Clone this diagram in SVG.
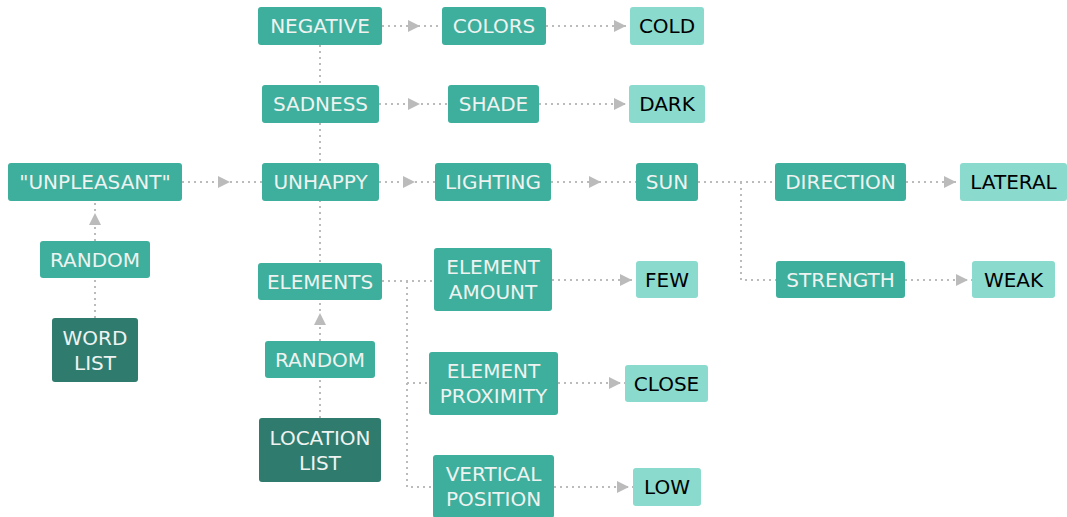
<svg xmlns="http://www.w3.org/2000/svg" width="1067" height="517" viewBox="0 0 1067 517">
<style>
.n rect{fill:#3daf9c;}
.d rect{fill:#2f7c6f;}
.l rect{fill:#8adacd;}
text{font-family:"DejaVu Sans",sans-serif;font-size:20px;text-anchor:middle;fill:#eef3f1;}
.l text{fill:#000;}
.c path{fill:none;stroke:#bbb;stroke-width:2;stroke-dasharray:2 4;}
.c polygon{fill:#bbb;}
</style>
<rect width="1067" height="517" fill="#fff"/>
<g class="c" id="connectors">
<path d="M182 182H262"/><polygon points="218,176 230,182 218,188"/>
<path d="M379 182H435"/><polygon points="403,176 415,182 403,188"/>
<path d="M382 26H442"/><polygon points="408,20 420,26 408,32"/>
<path d="M546 26H630"/><polygon points="614,20 626,26 614,32"/>
<path d="M379 104H448"/><polygon points="408,98 420,104 408,110"/>
<path d="M539 104H629"/><polygon points="614,98 626,104 614,110"/>
<path d="M551 182H636"/><polygon points="589,176 601,182 589,188"/>
<path d="M698 182H775"/>
<path d="M741 182V280H776"/>
<path d="M906 182H960"/><polygon points="944,176 956,182 944,188"/>
<path d="M905 280H972"/><polygon points="956,274 968,280 956,286"/>
<path d="M320 45V85"/>
<path d="M320 123V163"/>
<path d="M320 200V263"/>
<path d="M95 241V200"/><polygon points="89,225 95,213 101,225"/>
<path d="M95 318V278"/>
<path d="M320 341V300"/><polygon points="314,325 320,313 326,325"/>
<path d="M320 418V378"/>
<path d="M382 281H434"/>
<path d="M407 281V487H433"/>
<path d="M407 383H429"/>
<path d="M552 280H636"/><polygon points="620,274 632,280 620,286"/>
<path d="M558 383H625"/><polygon points="609,377 621,383 609,389"/>
<path d="M554 487H633"/><polygon points="617,481 629,487 617,493"/>
</g>
<g id="unpleasant" class="n"><rect x="8" y="163" width="174" height="38" rx="3"/><text x="95" y="189.3">"UNPLEASANT"</text></g>
<g id="unhappy" class="n"><rect x="262" y="163" width="117" height="38" rx="3"/><text x="320.5" y="189.3">UNHAPPY</text></g>
<g id="random1" class="n"><rect x="40" y="241" width="110" height="37" rx="3"/><text x="95" y="266.8">RANDOM</text></g>
<g id="wordlist" class="d"><rect x="52" y="318" width="86" height="64" rx="3"/><text x="95" y="345.3">WORD</text><text x="95" y="370.3">LIST</text></g>
<g id="elements" class="n"><rect x="258" y="263" width="124" height="37" rx="3"/><text x="320" y="288.8">ELEMENTS</text></g>
<g id="random2" class="n"><rect x="265" y="341" width="110" height="37" rx="3"/><text x="320" y="366.8">RANDOM</text></g>
<g id="locationlist" class="d"><rect x="259" y="418" width="122" height="64" rx="3"/><text x="320" y="445.3">LOCATION</text><text x="320" y="470.3">LIST</text></g>
<g id="negative" class="n"><rect x="258" y="7" width="124" height="38" rx="3"/><text x="320" y="33.3">NEGATIVE</text></g>
<g id="colors" class="n"><rect x="442" y="7" width="104" height="38" rx="3"/><text x="494" y="33.3">COLORS</text></g>
<g id="cold" class="l"><rect x="630" y="7" width="74" height="38" rx="3"/><text x="667" y="33.3">COLD</text></g>
<g id="sadness" class="n"><rect x="262" y="85" width="117" height="38" rx="3"/><text x="320.5" y="111.3">SADNESS</text></g>
<g id="shade" class="n"><rect x="448" y="85" width="91" height="38" rx="3"/><text x="493.5" y="111.3">SHADE</text></g>
<g id="dark" class="l"><rect x="629" y="85" width="76" height="38" rx="3"/><text x="667" y="111.3">DARK</text></g>
<g id="lighting" class="n"><rect x="435" y="163" width="116" height="38" rx="3"/><text x="493" y="189.3">LIGHTING</text></g>
<g id="sun" class="n"><rect x="636" y="163" width="62" height="38" rx="3"/><text x="667" y="189.3">SUN</text></g>
<g id="direction" class="n"><rect x="775" y="163" width="131" height="38" rx="3"/><text x="840.5" y="189.3">DIRECTION</text></g>
<g id="lateral" class="l"><rect x="960" y="163" width="107" height="38" rx="3"/><text x="1013.5" y="189.3">LATERAL</text></g>
<g id="strength" class="n"><rect x="776" y="261" width="129" height="37" rx="3"/><text x="840.5" y="286.8">STRENGTH</text></g>
<g id="weak" class="l"><rect x="972" y="261" width="83" height="37" rx="3"/><text x="1013.5" y="286.8">WEAK</text></g>
<g id="elementamount" class="n"><rect x="434" y="248" width="118" height="63" rx="3"/><text x="493" y="274.3">ELEMENT</text><text x="493" y="299.3">AMOUNT</text></g>
<g id="few" class="l"><rect x="636" y="261" width="62" height="37" rx="3"/><text x="667" y="286.8">FEW</text></g>
<g id="elementproximity" class="n"><rect x="429" y="352" width="129" height="63" rx="3"/><text x="493.5" y="378">ELEMENT</text><text x="493.5" y="403">PROXIMITY</text></g>
<g id="close" class="l"><rect x="625" y="365" width="83" height="37" rx="3"/><text x="666.5" y="390.8">CLOSE</text></g>
<g id="verticalposition" class="n"><rect x="433" y="455" width="121" height="63" rx="3"/><text x="493.5" y="481.3">VERTICAL</text><text x="493.5" y="506.3">POSITION</text></g>
<g id="low" class="l"><rect x="633" y="468" width="68" height="38" rx="3"/><text x="667" y="494.3">LOW</text></g>
</svg>
